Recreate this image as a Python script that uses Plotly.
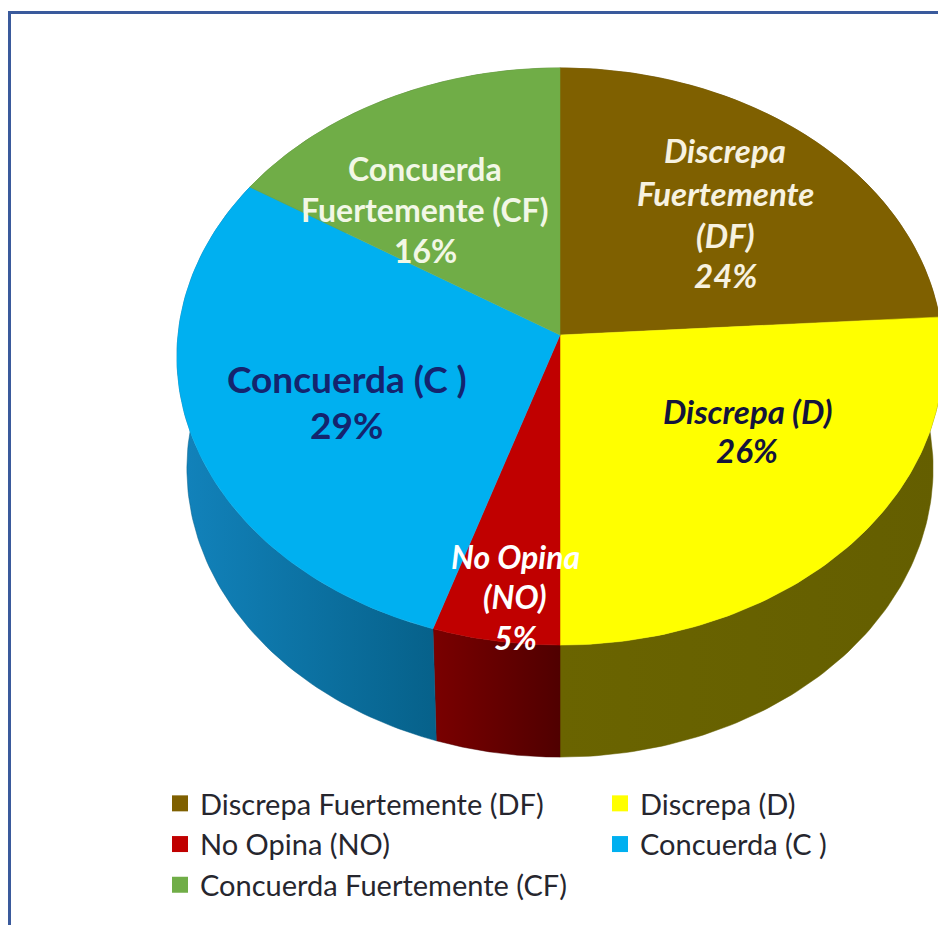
import numpy as np
import plotly.graph_objects as go

# ---- data -------------------------------------------------------------
categories = ["Discrepa Fuertemente (DF)", "Discrepa (D)", "No Opina (NO)",
              "Concuerda (C )", "Concuerda Fuertemente (CF)"]
values = [24, 26, 5, 29, 16]

# ---- styles -----------------------------------------------------------
top_colors = ["#7F6000", "#FFFF00", "#C00000", "#00B0F0", "#70AD47"]
side_left = ["#5E4700", "#6A6400", "#7A0000", "#1283BC", "#4E7A30"]
side_right = ["#5E4700", "#645E00", "#500000", "#06618A", "#4E7A30"]

# label text lines per slice: (text, x, y)
label_lines = [
    [("Discrepa", 725, 150), ("Fuertemente", 725, 193), ("(DF)", 725, 235), ("24%", 725, 275)],
    [("Discrepa (D)", 747, 411), ("26%", 747, 450)],
    [("No Opina", 515, 556), ("(NO)", 515, 596), ("5%", 515, 637)],
    [("Concuerda (C )", 347, 378), ("29%", 346, 424)],
    [("Concuerda", 425, 168), ("Fuertemente (CF)", 425, 209), ("16%", 425, 250)],
]
label_colors = ["#F7F2E0", "#14143C", "#FFFFFF", "#14246E", "#F2F7E6"]
label_italic = [True, True, True, False, False]
label_sizes = [33, 33, 32, 37, 32]

# ---- pie projection (perspective disc seen from above) ------------------
CX, CY, A, B, K, DEPTH, FLOOR_SCALE = 560, 335, 382, 287, 0.0745, 112, 0.974


def rim(t0, t1, depth=0, scale=1.0, n=90):
    th = np.linspace(t0, t1, n)
    u, v = np.sin(th), np.cos(th)
    w = 1 + K * v
    return CX + scale * A * u / w, CY - B * v / w + depth


fig = go.Figure()
fracs = np.cumsum([0] + values) / sum(values) * 2 * np.pi

# side walls first
for i, _ in enumerate(categories):
    x0, y0 = rim(fracs[i], fracs[i + 1])
    x1, y1 = rim(fracs[i], fracs[i + 1], DEPTH, FLOOR_SCALE)
    fig.add_trace(go.Scatter(
        x=np.r_[x0, x1[::-1], x0[0]], y=np.r_[y0, y1[::-1], y0[0]],
        mode="lines", fill="toself", line=dict(width=0.5, color=side_right[i]),
        fillgradient=dict(type="horizontal",
                          colorscale=[[0, side_left[i]], [1, side_right[i]]]),
        hoverinfo="skip", showlegend=False))

# top faces
for i, name in enumerate(categories):
    x0, y0 = rim(fracs[i], fracs[i + 1])
    fig.add_trace(go.Scatter(
        x=np.r_[CX, x0, CX], y=np.r_[CY, y0, CY],
        mode="lines", fill="toself", fillcolor=top_colors[i],
        line=dict(width=0.5, color=top_colors[i]),
        name=name, hoverinfo="name", showlegend=False))

# legend entries: two vertical legends forming the two columns
legend_of = ["legend", "legend2", "legend", "legend2", "legend"]
for i, name in enumerate(categories):
    fig.add_trace(go.Scatter(
        x=[None], y=[None], mode="markers", name=name, legend=legend_of[i],
        legendgroup=name,
        marker=dict(symbol="square", size=19, color=top_colors[i]),
        showlegend=True))

# slice labels
annotations = []
for i, lines in enumerate(label_lines):
    for text, x, y in lines:
        annotations.append(dict(
            x=x, y=y, xref="x", yref="y", showarrow=False, text=text,
            xanchor="center", yanchor="middle",
            font=dict(family="Lato", size=label_sizes[i], weight="bold", color=label_colors[i],
                      style="italic" if label_italic[i] else "normal")))

legend_style = dict(
    orientation="v", yanchor="top", xanchor="left", bgcolor="rgba(0,0,0,0)",
    font=dict(family="Lato", size=29, color="#26262E"),
    tracegroupgap=9, itemclick=False, itemdoubleclick=False, traceorder="normal")

fig.update_layout(
    width=938, height=925, margin=dict(l=0, r=0, t=0, b=0),
    paper_bgcolor="white", plot_bgcolor="white",
    xaxis=dict(range=[0, 938], visible=False, fixedrange=True),
    yaxis=dict(range=[925, 0], visible=False, fixedrange=True),
    annotations=annotations,
    legend=dict(x=160 / 938, y=1 - 778 / 925, **legend_style),
    legend2=dict(x=600 / 938, y=1 - 778 / 925, **legend_style),
    shapes=[
        dict(type="line", xref="paper", yref="paper", x0=9.5 / 938, x1=9.5 / 938,
             y0=0, y1=1 - 12 / 925, line=dict(color="#3A5A9C", width=3)),
        dict(type="line", xref="paper", yref="paper", x0=8 / 938, x1=1,
             y0=1 - 12.5 / 925, y1=1 - 12.5 / 925, line=dict(color="#3A5A9C", width=3)),
    ],
)

fig.write_html("out.html", config={"displayModeBar": False},
               post_script="document.body.style.margin='0';document.body.style.overflow='hidden';")
